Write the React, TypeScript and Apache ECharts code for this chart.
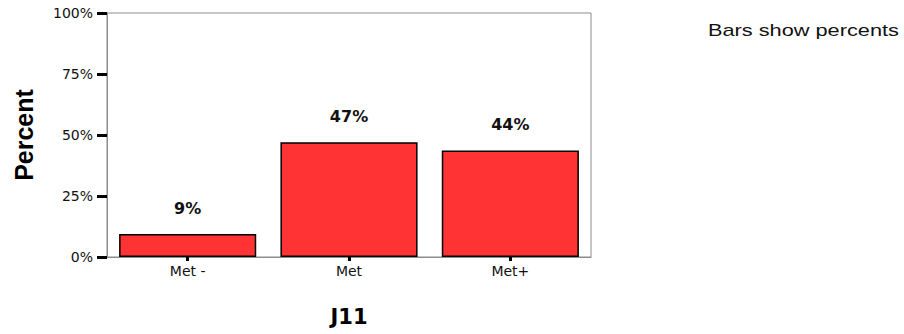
import React, { useEffect, useRef } from "react";
import * as echarts from "echarts";

const categories = ["Met -", "Met", "Met+"];
const percentValues = [9.4, 47.0, 43.6];
const barLabels = ["9%", "47%", "44%"];
const yTicks = [0, 25, 50, 75, 100];
const xTitle = "J11";
const yTitle = "Percent";
const noteText = "Bars show percents";

export default function App() {
  const ref = useRef<HTMLDivElement>(null);

  useEffect(() => {
    if (!ref.current) return;
    const chart = echarts.init(ref.current, null, { renderer: "svg" });
    const option = {
      animation: false,
      backgroundColor: "#ffffff",
      grid: {
        left: 107,
        right: 313,
        top: 13,
        bottom: 77,
        show: true,
        borderColor: "#8c8c8c",
        borderWidth: 1,
        backgroundColor: "transparent",
      },
      xAxis: {
        type: "category",
        data: categories,
        name: xTitle,
        nameLocation: "middle",
        nameGap: 49,
        nameTextStyle: {
          fontFamily: "DejaVu Sans",
          fontWeight: "bold",
          fontSize: 21,
          color: "#000",
        },
        axisLine: { show: true, lineStyle: { color: "#8c8c8c", width: 1 } },
        axisTick: {
          show: true,
          alignWithLabel: true,
          length: 4,
          lineStyle: { color: "#000", width: 3 },
        },
        axisLabel: {
          margin: 7,
          fontFamily: "DejaVu Sans",
          fontSize: 14,
          color: "#111",
        },
        splitLine: { show: false },
      },
      yAxis: {
        type: "value",
        min: yTicks[0],
        max: yTicks[yTicks.length - 1],
        interval: yTicks[1] - yTicks[0],
        name: yTitle,
        nameLocation: "middle",
        nameGap: 71,
        nameRotate: 90,
        nameTextStyle: {
          fontFamily: "Liberation Sans",
          fontWeight: "bold",
          fontSize: 25,
          color: "#000",
        },
        axisLine: { show: true, lineStyle: { color: "#8c8c8c", width: 1 } },
        axisTick: {
          show: true,
          length: 10,
          lineStyle: { color: "#000", width: 3 },
        },
        axisLabel: {
          margin: 14,
          fontFamily: "DejaVu Sans",
          fontSize: 14,
          color: "#111",
          formatter: "{value}%",
        },
        splitLine: { show: false },
      },
      series: [
        {
          type: "bar",
          data: percentValues,
          barCategoryGap: "15%",
          itemStyle: {
            color: "#ff3333",
            borderColor: "#000",
            borderWidth: 1.5,
          },
          label: {
            show: true,
            position: "top",
            distance: 18,
            fontFamily: "DejaVu Sans",
            fontWeight: "bold",
            fontSize: 16,
            color: "#111",
            formatter: (p: any) => barLabels[p.dataIndex],
          },
        },
      ],
      graphic: [
        {
          type: "text",
          left: 708,
          top: 23,
          style: {
            text: noteText,
            fontFamily: "Liberation Sans",
            fontSize: 16,
            fill: "#111",
          },
          scaleX: 1.36,
        },
      ],
    };
    chart.setOption(option as any);
    return () => chart.dispose();
  }, []);

  return (
    <div
      ref={ref}
      style={{ position: "absolute", left: 0, top: 0, width: 904, height: 334 }}
    />
  );
}
